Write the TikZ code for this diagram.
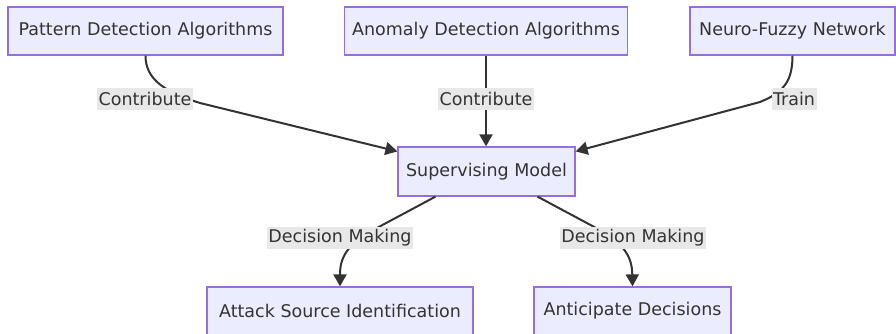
\documentclass[tikz,border=0pt]{standalone}
\usepackage{fontspec}
\setmainfont{DejaVu Sans}
\usetikzlibrary{arrows.meta}
\definecolor{boxfill}{HTML}{ECECFF}
\definecolor{boxline}{HTML}{9370DB}
\definecolor{ink}{HTML}{333333}
\definecolor{tagfill}{HTML}{E8E8E8}
\tikzset{
  box/.style={draw=boxline, line width=1.2pt, fill=boxfill, text=ink, inner sep=0pt,
    minimum height=48pt, font=\fontsize{17.5}{21}\selectfont},
  tag/.style={fill=tagfill, text=ink, inner xsep=1.5pt, inner ysep=0pt,
    minimum height=22pt, font=\fontsize{17.5}{21}\selectfont},
  link/.style={draw=ink, line width=2pt, -{Triangle[length=12pt,width=13pt]}},
}
\begin{document}
\begin{tikzpicture}[x=1pt,y=-1pt]
\useasboundingbox (0,0) rectangle (896,334);

% sources
\node[box, minimum width=275pt] (pda) at (145.5,31) {Pattern Detection Algorithms};
\node[box, minimum width=283pt] (ada) at (486,31) {Anomaly Detection Algorithms};
\node[box, minimum width=205pt] (nfn) at (792.5,31) {Neuro-Fuzzy Network};

% central model
\node[box, minimum width=177pt, minimum height=49pt] (sm) at (486.5,171.5) {Supervising Model};

% outcomes
\node[box, minimum width=266pt] (asi) at (340,311) {Attack Source Identification};
\node[box, minimum width=197pt] (antd) at (632.5,311) {Anticipate Decisions};

% connectors
\draw[link] (pda.south) .. controls +(0,24) and (165,92) .. (200,103)
  -- ([yshift=-5pt]sm.north west);
\draw[link] (ada.south) -- (sm.north -| ada.south);
\draw[link] (nfn.south) .. controls +(0,24) and (785,92) .. (760,102)
  -- ([yshift=-5pt]sm.north east);
\draw[link] ([xshift=-51pt]sm.south) -- (375,229)
  .. controls (346,245) and (340,258) .. (asi.north);
\draw[link] ([xshift=51pt]sm.south) -- (598,229)
  .. controls (626,245) and (632,258) .. (antd.north);

% edge labels
\node[tag] (t1) at (145,99) {Contribute};
\node[tag] (t2) at (486,99) {Contribute};
\node[tag] (t3) at (794,99) {Train};
\node[tag] (t4) at (340,238) {Decision Making};
\node[tag] (t5) at (633,238) {Decision Making};
\end{tikzpicture}
\end{document}
